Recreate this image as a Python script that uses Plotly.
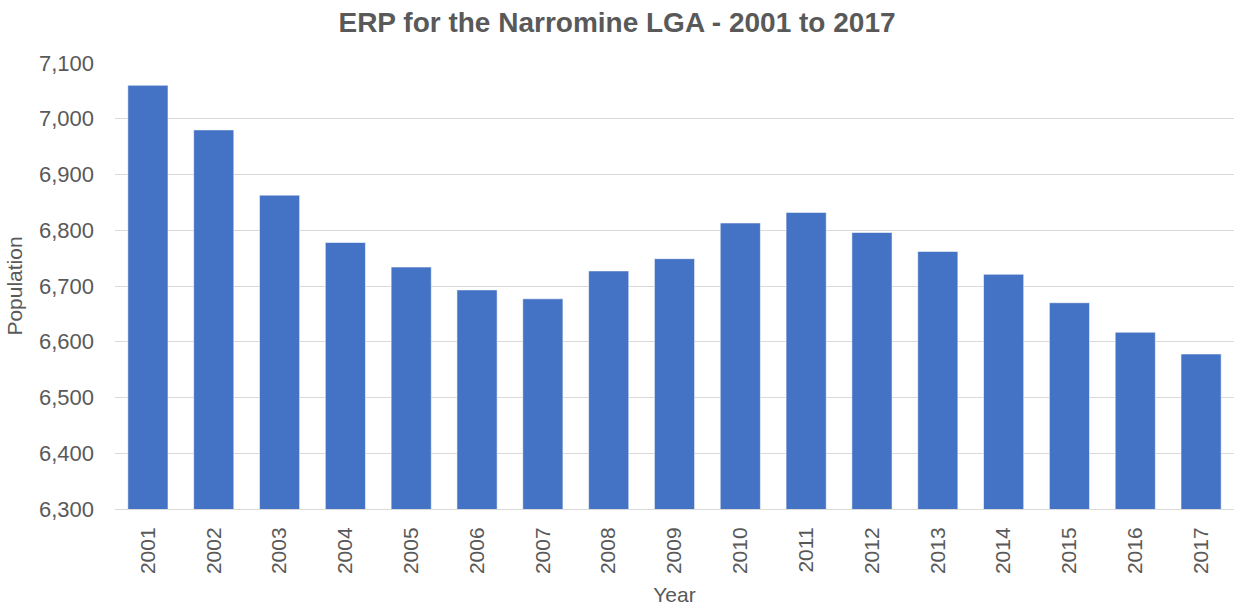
import plotly.graph_objects as go

years = ["2001", "2002", "2003", "2004", "2005", "2006", "2007", "2008", "2009",
         "2010", "2011", "2012", "2013", "2014", "2015", "2016", "2017"]
population = [7060, 6980, 6863, 6778, 6734, 6693, 6677, 6727, 6749,
              6813, 6832, 6796, 6762, 6721, 6670, 6617, 6578]
y_ticks = [6300, 6400, 6500, 6600, 6700, 6800, 6900, 7000, 7100]

FONT = "Liberation Sans, Arial, sans-serif"
GREY = "#595959"

fig = go.Figure(
    go.Bar(
        x=years,
        y=population,
        marker=dict(color="#4472C4", line=dict(color="rgba(255,255,255,0.55)", width=1)),
    )
)

fig.update_layout(
    width=1234,
    height=606,
    margin=dict(l=115, r=0, t=63, b=97),
    paper_bgcolor="white",
    plot_bgcolor="white",
    bargap=0.39,
    showlegend=False,
    font=dict(family=FONT, color=GREY),
    title=dict(
        text="<b>ERP for the Narromine LGA - 2001 to 2017</b>",
        font=dict(family=FONT, size=28, color=GREY),
        x=0.5, xref="container", xanchor="center",
        y=1 - 22 / 606, yref="container", yanchor="middle",
    ),
)

fig.update_xaxes(
    type="category",
    tickangle=-90,
    tickfont=dict(family=FONT, size=21, color=GREY),
    ticklabelstandoff=9,
    showline=True, linecolor="#d9d9d9", linewidth=1,
    showgrid=False,
    title=dict(text="Year", font=dict(family=FONT, size=21, color=GREY), standoff=15),
)

fig.update_yaxes(
    range=[6300, 7100],
    tickvals=y_ticks,
    tickformat=",",
    tickfont=dict(family=FONT, size=22, color=GREY),
    ticklabelstandoff=20,
    showgrid=True, gridcolor="#d9d9d9", gridwidth=1,
    zeroline=False,
    showline=False,
    title=dict(text="Population", font=dict(family=FONT, size=21, color=GREY), standoff=10),
)

fig.write_html(
    "out.html",
    config={"displayModeBar": False},
    post_script="document.body.style.margin='0';document.body.style.overflow='hidden';",
)
